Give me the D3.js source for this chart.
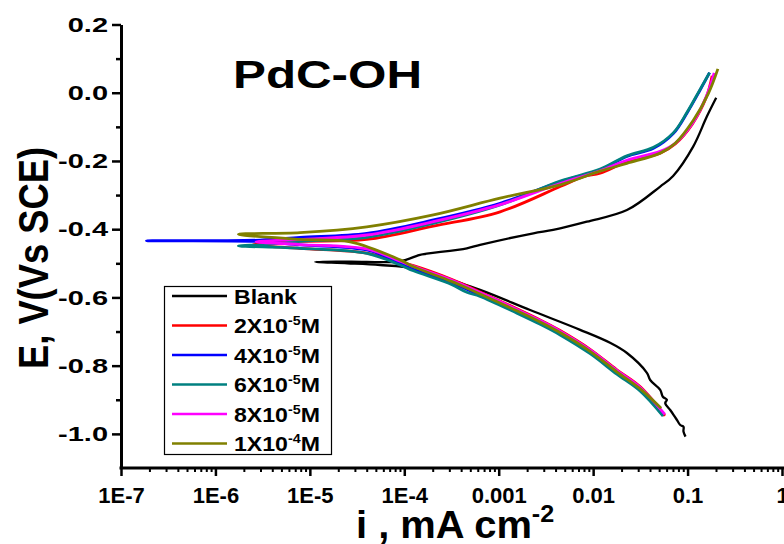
<!DOCTYPE html>
<html>
<head>
<meta charset="utf-8">
<script src="https://cdn.jsdelivr.net/npm/d3@7"></script>
<style>
  html, body { margin: 0; padding: 0; background: #fff; }
  svg { display: block; }
  text { font-family: "Liberation Sans", Arial, sans-serif; font-weight: bold; fill: #000; }
</style>
</head>
<body>
<svg id="chart" width="784" height="544"></svg>
<script>
// Potentiodynamic polarization (Tafel) curves: current density i (mA cm^-2) vs potential E (V vs SCE)
// Each series is listed from the cathodic end, through the corrosion potential, to the anodic end.

const blank = [
  [0.0951, -1.008], [0.0905, -0.993], [0.0906, -0.979], [0.0836, -0.974], [0.0771, -0.959],
  [0.0710, -0.944], [0.0655, -0.930], [0.0580, -0.910], [0.0604, -0.900], [0.0547, -0.891],
  [0.0513, -0.871], [0.0402, -0.842], [0.0371, -0.821], [0.0228, -0.763], [0.0151, -0.733],
  [0.00728, -0.695], [0.00215, -0.637], [6.35e-4, -0.578], [1.875e-4, -0.529], [1.24e-4, -0.514],
  [5.55e-5, -0.505], [2.5e-5, -0.500], [1.14e-5, -0.496],
  [2.67e-5, -0.495], [9.0e-5, -0.494], [1.36e-4, -0.478], [1.47e-4, -0.475], [4.6e-4, -0.456],
  [6.35e-4, -0.446], [2.33e-3, -0.412], [3.77e-3, -0.402], [8.57e-3, -0.378], [0.0228, -0.344],
  [0.0513, -0.275], [0.0703, -0.244], [0.1146, -0.158], [0.160, -0.070], [0.201, -0.015]
];

const conc2e5 = [
  [0.0575, -0.947], [0.0316, -0.862], [0.01782, -0.812], [0.00929, -0.752], [0.00447, -0.697],
  [0.00275, -0.666], [0.00158, -0.634], [6.35e-4, -0.584], [3.16e-4, -0.547], [1.25e-4, -0.507],
  [9.04e-5, -0.497], [4.01e-5, -0.470], [7.87e-6, -0.456], [2.51e-6, -0.445],
  [7.87e-6, -0.436], [4.01e-5, -0.430], [2.03e-4, -0.391], [1.035e-3, -0.349], [4.47e-3, -0.275],
  [7.89e-3, -0.246], [0.01186, -0.236], [0.02275, -0.203], [0.0513, -0.177], [0.074, -0.150],
  [0.1122, -0.092], [0.1585, -0.012], [0.182, 0.050]
];

const conc4e5 = [
  [0.055, -0.945], [0.0316, -0.872], [0.01782, -0.822], [0.00929, -0.762], [0.00447, -0.707],
  [0.00275, -0.676], [0.00158, -0.644], [6.35e-4, -0.594], [3.16e-4, -0.557], [1.25e-4, -0.517],
  [9.04e-5, -0.499], [4.01e-5, -0.461], [7.87e-6, -0.446], [2.96e-6, -0.436], [1.86e-7, -0.434],
  [2.96e-6, -0.432], [7.87e-6, -0.424], [4.01e-5, -0.412], [2.03e-4, -0.373], [1.035e-3, -0.324],
  [4.47e-3, -0.261], [0.01186, -0.226], [0.02275, -0.187], [0.0436, -0.163], [0.071, -0.119],
  [0.0984, -0.060], [0.1358, 0.008], [0.171, 0.059]
];

const conc6e5 = [
  [0.055, -0.948], [0.0316, -0.875], [0.01782, -0.825], [0.00929, -0.765], [0.00447, -0.710],
  [0.00275, -0.679], [0.00158, -0.647], [6.35e-4, -0.597], [4.59e-4, -0.585], [3.16e-4, -0.562],
  [1.25e-4, -0.522], [9.04e-5, -0.505], [4.01e-5, -0.471], [7.87e-6, -0.456], [1.75e-6, -0.449],
  [3.5e-6, -0.445], [7.87e-6, -0.436], [4.01e-5, -0.424], [2.03e-4, -0.383], [1.035e-3, -0.329],
  [4.47e-3, -0.259], [0.01186, -0.224], [0.02275, -0.185], [0.0436, -0.160], [0.071, -0.117],
  [0.0984, -0.058], [0.1358, 0.010], [0.171, 0.059]
];

const conc8e5 = [
  [0.0575, -0.943], [0.0316, -0.864], [0.01782, -0.814], [0.00929, -0.754], [0.00447, -0.699],
  [0.00275, -0.668], [0.00158, -0.636], [6.35e-4, -0.586], [3.16e-4, -0.549], [1.25e-4, -0.509],
  [9.04e-5, -0.494], [4.01e-5, -0.458], [7.87e-6, -0.445], [2.69e-6, -0.437],
  [7.87e-6, -0.430], [4.01e-5, -0.417], [2.03e-4, -0.378], [1.035e-3, -0.328], [4.47e-3, -0.266],
  [0.01186, -0.229], [0.02275, -0.198], [0.0513, -0.172], [0.074, -0.148], [0.1122, -0.090],
  [0.1585, -0.010], [0.1914, 0.058]
];

const conc1e4 = [
  [0.0525, -0.925], [0.0316, -0.868], [0.01782, -0.818], [0.00929, -0.758], [0.00447, -0.703],
  [0.00275, -0.672], [0.00158, -0.640], [6.35e-4, -0.590], [3.16e-4, -0.553], [1.25e-4, -0.510],
  [9.04e-5, -0.490], [2.67e-5, -0.437], [7.87e-6, -0.430], [1.75e-6, -0.415],
  [7.87e-6, -0.410], [4.01e-5, -0.393], [2.03e-4, -0.358], [1.035e-3, -0.309], [4.47e-3, -0.270],
  [0.01186, -0.230], [0.02275, -0.207], [0.0513, -0.177], [0.074, -0.148], [0.1156, -0.080],
  [0.1663, -0.002], [0.2094, 0.070]
];

// Legend entries: base text, superscript exponent, unit suffix
const seriesNames = [
  ["Blank", "", ""],
  ["2X10", "-5", "M"],
  ["4X10", "-5", "M"],
  ["6X10", "-5", "M"],
  ["8X10", "-5", "M"],
  ["1X10", "-4", "M"]
];
const seriesData = [blank, conc2e5, conc4e5, conc6e5, conc8e5, conc1e4];
const seriesColors = ["#000000", "#ff0000", "#0000ff", "#008080", "#ff00ff", "#808000"];

const xTickValues = [1e-7, 1e-6, 1e-5, 1e-4, 1e-3, 1e-2, 1e-1, 1];
const xTickLabels = ["1E-7", "1E-6", "1E-5", "1E-4", "0.001", "0.01", "0.1", "1"];
const yTickValues = [-1.0, -0.8, -0.6, -0.4, -0.2, 0.0, 0.2];
const yTickLabels = ["-1.0", "-0.8", "-0.6", "-0.4", "-0.2", "0.0", "0.2"];
const yMinorValues = [-0.9, -0.7, -0.5, -0.3, -0.1, 0.1];

const svg = d3.select("#chart");

const x = d3.scaleLog().domain([1e-7, 1]).range([121, 782]);
const y = d3.scaleLinear().domain([-1.1, 0.2]).range([468, 24.5]);

// Curves
const line = d3.line().x(d => x(d[0])).y(d => y(d[1])).curve(d3.curveCatmullRom.alpha(0.5));
const curves = svg.append("g").attr("fill", "none");
seriesData.forEach((data, k) => {
  curves.append("path")
    .datum(data)
    .attr("d", line)
    .attr("stroke", seriesColors[k])
    .attr("stroke-width", k === 0 ? 2.3 : 2.8)
    .attr("stroke-linejoin", "round");
});

// X axis: decades with labels, minor log ticks between them
const xMinor = x.ticks().filter(v => !xTickValues.some(t => Math.abs(Math.log10(v) - Math.log10(t)) < 1e-6));
const xMinorAxis = svg.append("g").attr("transform", "translate(0,468)")
  .call(d3.axisBottom(x).tickValues(xMinor).tickFormat("").tickSize(4).tickSizeOuter(0));
xMinorAxis.select(".domain").remove();
xMinorAxis.selectAll("line").attr("stroke-width", 2);

const xAxis = svg.append("g").attr("transform", "translate(0,468)")
  .call(d3.axisBottom(x).tickValues(xTickValues)
    .tickFormat((d, i) => xTickLabels[i]).tickSize(8).tickSizeOuter(0).tickPadding(11));
xAxis.select(".domain").attr("stroke-width", 3).attr("d", "M119.5,0H784");
xAxis.selectAll("line").attr("stroke-width", 2.5);
xAxis.selectAll("text").attr("font-size", 22).attr("font-family", "Liberation Sans, Arial, sans-serif")
  .attr("font-weight", "bold");

// Y axis
const yMinorAxis = svg.append("g").attr("transform", "translate(121,0)")
  .call(d3.axisLeft(y).tickValues(yMinorValues).tickFormat("").tickSize(5).tickSizeOuter(0));
yMinorAxis.select(".domain").remove();
yMinorAxis.selectAll("line").attr("stroke-width", 2.5);

const yAxis = svg.append("g").attr("transform", "translate(121,0)")
  .call(d3.axisLeft(y).tickValues(yTickValues)
    .tickFormat((d, i) => yTickLabels[i]).tickSize(9).tickSizeOuter(0).tickPadding(4));
yAxis.select(".domain").attr("stroke-width", 3);
yAxis.selectAll("line").attr("stroke-width", 2.5);
// tick labels are drawn horizontally widened, anchored at their right edge
yAxis.selectAll("text")
  .attr("font-size", 21).attr("font-family", "Liberation Sans, Arial, sans-serif")
  .attr("font-weight", "bold")
  .attr("x", 0)
  .attr("transform", "translate(-13,0) scale(1.38,1)");

// Title
svg.append("text").attr("x", 233).attr("y", 88)
  .attr("font-size", 38).attr("textLength", 189).attr("lengthAdjust", "spacingAndGlyphs")
  .text("PdC-OH");

// Axis titles
svg.append("text")
  .attr("transform", "translate(48,258) rotate(-90)")
  .attr("text-anchor", "middle")
  .attr("font-size", 43)
  .attr("textLength", 222).attr("lengthAdjust", "spacingAndGlyphs")
  .text("E, V(Vs SCE)");

const xt = svg.append("g").attr("transform", "translate(356,538) scale(1.05,1)")
  .append("text").attr("x", 0).attr("y", 0).attr("font-size", 38);
xt.append("tspan").text("i , mA cm");
xt.append("tspan").attr("dy", -16).attr("font-size", 24).text("-2");

// Legend
const legend = svg.append("g");
legend.append("rect").attr("x", 164.5).attr("y", 286.5).attr("width", 167).attr("height", 168)
  .attr("fill", "#fff").attr("stroke", "#000").attr("stroke-width", 1.2);
seriesNames.forEach((n, k) => {
  const cy = 296 + k * 29.5;
  legend.append("line").attr("x1", 172).attr("x2", 227).attr("y1", cy).attr("y2", cy)
    .attr("stroke", seriesColors[k]).attr("stroke-width", 2.5);
  const t = legend.append("g").attr("transform", `translate(234,${cy + 7.5}) scale(1.1,1)`)
    .append("text").attr("x", 0).attr("y", 0).attr("font-size", 21);
  t.append("tspan").text(n[0]);
  if (n[1]) {
    t.append("tspan").attr("dy", -8).attr("font-size", 13).text(n[1]);
    t.append("tspan").attr("dy", 8).text(n[2]);
  }
});
</script>
</body>
</html>
